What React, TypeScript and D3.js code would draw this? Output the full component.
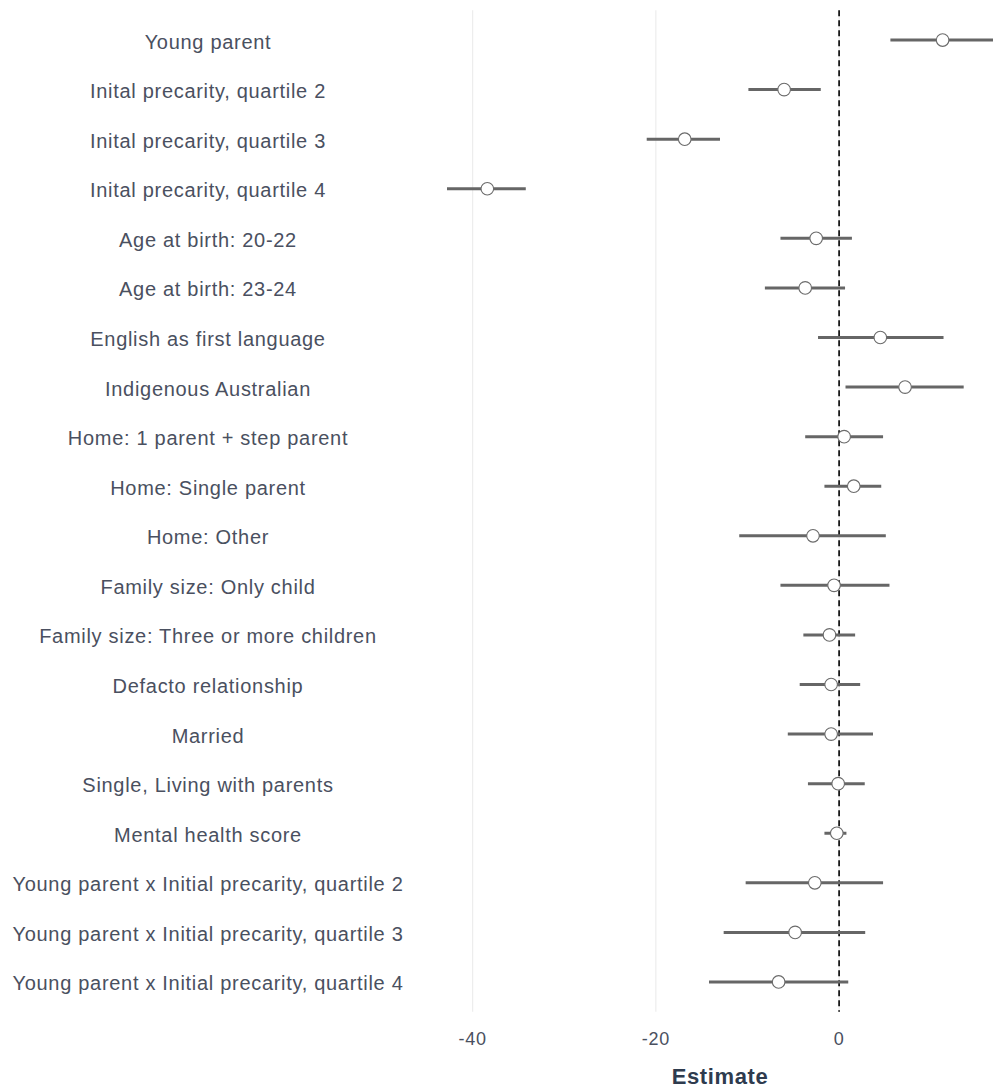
import React from "react";
import * as d3 from "d3";

const terms = [
  "Young parent",
  "Inital precarity, quartile 2",
  "Inital precarity, quartile 3",
  "Inital precarity, quartile 4",
  "Age at birth: 20-22",
  "Age at birth: 23-24",
  "English as first language",
  "Indigenous Australian",
  "Home: 1 parent + step parent",
  "Home: Single parent",
  "Home: Other",
  "Family size: Only child",
  "Family size: Three or more children",
  "Defacto relationship",
  "Married",
  "Single, Living with parents",
  "Mental health score",
  "Young parent x Initial precarity, quartile 2",
  "Young parent x Initial precarity, quartile 3",
  "Young parent x Initial precarity, quartile 4",
];

const estimates = [11.3, -6.0, -16.85, -38.4, -2.5, -3.7, 4.5, 7.2, 0.55, 1.6, -2.85, -0.55, -1.05, -0.87, -0.87, -0.1, -0.25, -2.65, -4.8, -6.6];
const lower = [5.6, -9.9, -21.0, -42.8, -6.4, -8.1, -2.3, 0.7, -3.7, -1.6, -10.9, -6.4, -3.9, -4.3, -5.6, -3.4, -1.6, -10.2, -12.6, -14.2];
const upper = [16.8, -2.0, -13.0, -34.2, 1.4, 0.65, 11.4, 13.6, 4.8, 4.6, 5.1, 5.5, 1.75, 2.3, 3.7, 2.8, 0.8, 4.8, 2.85, 1.0];

const xTicks = [-40, -20, 0];

const W = 993;
const H = 1090;
const FONT = "'Liberation Sans', Arial, Helvetica, sans-serif";

export default function App() {
  const panelLeft = 447;
  const panelRight = 993;
  const panelTop = 10.3;
  const panelBottom = 1011.7;

  const x = d3.scaleLinear().domain([d3.min(lower)!, d3.max(upper)!]).range([panelLeft, panelRight]);
  const y = d3.scalePoint<string>().domain(terms).range([panelTop, panelBottom]).padding(0.6);

  return (
    <svg width={W} height={H} style={{ position: "absolute", left: 0, top: 0, background: "#fff" }}>
      <rect x={0} y={0} width={W} height={H} fill="#ffffff" />
      <defs>
        <clipPath id="panel">
          <rect x={panelLeft - 20} y={panelTop} width={panelRight - panelLeft + 20} height={panelBottom - panelTop} />
        </clipPath>
      </defs>
      {xTicks.map((t) => (
        <line key={"g" + t} x1={x(t)} x2={x(t)} y1={panelTop} y2={panelBottom} stroke="#ebebeb" strokeWidth={1.1} />
      ))}
      <line x1={x(0)} x2={x(0)} y1={panelTop} y2={panelBottom} stroke="#000" strokeWidth={1.6} strokeDasharray="6,4" />
      <g clipPath="url(#panel)">
        {terms.map((t, i) => (
          <line key={"ci" + i} x1={x(lower[i])} x2={x(upper[i])} y1={y(t)!} y2={y(t)!} stroke="#666666" strokeWidth={3} />
        ))}
        {terms.map((t, i) => (
          <circle key={"pt" + i} cx={x(estimates[i])} cy={y(t)!} r={6.3} fill="#ffffff" stroke="#6b6b6b" strokeWidth={1.1} />
        ))}
      </g>
      {terms.map((t) => (
        <text key={"lab" + t} x={208} y={y(t)! + 1.5} textAnchor="middle" dominantBaseline="central" fontFamily={FONT} fontSize={20} letterSpacing={0.7} fill="#4a5060">
          {t}
        </text>
      ))}
      {xTicks.map((t) => (
        <text key={"tk" + t} x={x(t)} y={1039} textAnchor="middle" dominantBaseline="central" fontFamily={FONT} fontSize={18} letterSpacing={0.8} fill="#4a5060">
          {t}
        </text>
      ))}
      <text x={(panelLeft + panelRight) / 2} y={1076} textAnchor="middle" dominantBaseline="central" fontFamily={FONT} fontSize={22} fontWeight="bold" letterSpacing={0.6} fill="#2e3b4e">
        Estimate
      </text>
    </svg>
  );
}
